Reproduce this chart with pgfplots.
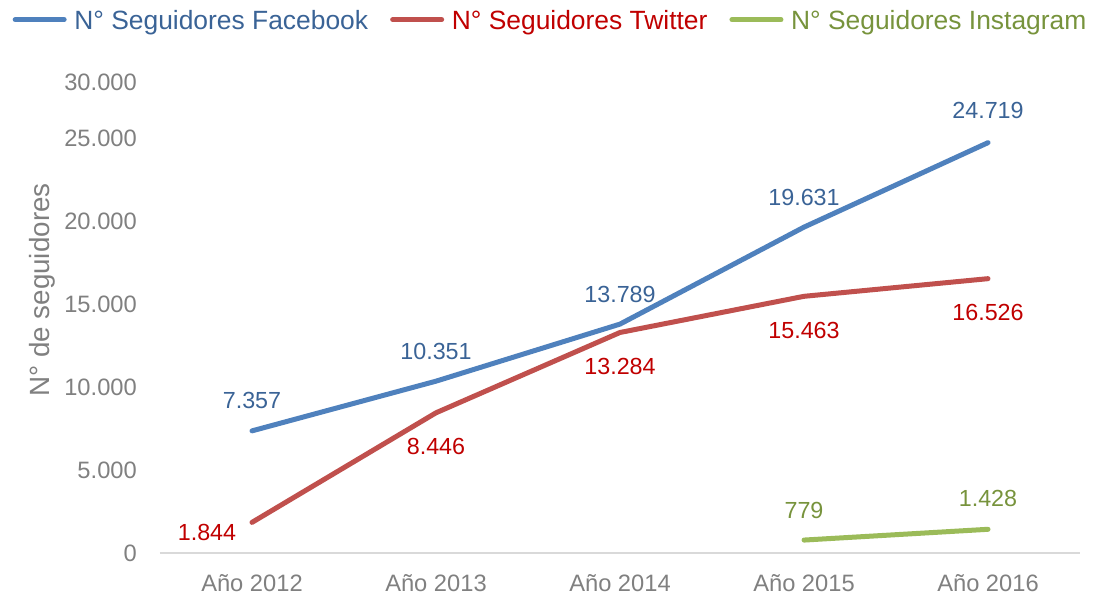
\documentclass[border=0pt]{standalone}
\usepackage{fontspec}
\setmainfont{Liberation Sans}
\usepackage{pgfplots}
\usepackage{pgfplotstable}
\pgfplotsset{compat=1.18}

\definecolor{fbline}{HTML}{4F81BD}
\definecolor{fbtext}{HTML}{3A6396}
\definecolor{twline}{HTML}{C0504D}
\definecolor{twtext}{HTML}{C00000}
\definecolor{igline}{HTML}{9BBB59}
\definecolor{igtext}{HTML}{77933C}
\definecolor{ticktext}{HTML}{808080}
\definecolor{axisline}{HTML}{D9D9D9}

\pgfplotstableread{
x y lab dx dy
0 7357 7.357 0 30
1 10351 10.351 0 30
2 13789 13.789 0 29.5
3 19631 19.631 0 30
4 24719 24.719 0 32
}\fb

\pgfplotstableread{
x y lab dx dy
0 1844 1.844 -45 -10.5
1 8446 8.446 0 -34
2 13284 13.284 0 -34
3 15463 15.463 0 -34
4 16526 16.526 0 -34
}\tw

\pgfplotstableread{
x y lab dx dy
3 779 779 0 29.5
4 1428 1.428 0 31
}\ig

\pgfplotsset{lbl/.style={
  point meta=explicit symbolic,
  nodes near coords,
  visualization depends on={\thisrow{dx} \as \dx},
  visualization depends on={\thisrow{dy} \as \dy},
  every node near coord/.append style={anchor=center, inner sep=0pt, font=\fontsize{23.3pt}{28pt}\selectfont, text=#1, xshift=\dx pt, yshift=\dy pt}
}}

\begin{document}
\begin{tikzpicture}
\useasboundingbox (-160pt,-44pt) rectangle (934pt,553pt);
\begin{axis}[
  at={(0,0)}, anchor=south west,
  scale only axis,
  width=920pt, height=498pt,
  xmin=-0.5, xmax=4.5,
  ymin=0, ymax=30000,
  clip=false,
  scaled y ticks=false,
  axis x line=bottom,
  axis y line=left,
  x axis line style={draw=axisline, line width=1.3pt, -},
  y axis line style={draw=none},
  major tick length=0pt,
  tick style={draw=none},
  xtick={0,1,2,3,4},
  xticklabels={Año 2012,Año 2013,Año 2014,Año 2015,Año 2016},
  ytick={0,5000,10000,15000,20000,25000,28373},
  yticklabels={0,5.000,10.000,15.000,20.000,25.000,30.000},
  xticklabel style={anchor=base, inner sep=0pt, yshift=-38pt, text=ticktext, font=\fontsize{23.7pt}{28pt}\selectfont},
  yticklabel style={anchor=east, inner sep=0pt, xshift=-23pt, text=ticktext, font=\fontsize{23.7pt}{28pt}\selectfont},
  ylabel={N° de seguidores},
  ylabel style={at={(axis description cs:0,0.528)}, anchor=center, inner sep=0pt, yshift=118pt, text=ticktext, font=\fontsize{27.8pt}{32pt}\selectfont},
  legend columns=3,
  legend style={draw=none, fill=none, inner sep=0pt,
    at={(axis description cs:0.4234,1)}, anchor=center, yshift=34.7pt,
    font=\fontsize{26.4pt}{31pt}\selectfont,
    nodes={inner sep=0pt},
    /tikz/every odd column/.append style={column sep=7.7pt},
    /tikz/every even column/.append style={column sep=22pt}},
  legend image code/.code={\draw[#1, line width=5pt, line cap=round] (2.5pt,0.6pt) -- (51.5pt,0.6pt);},
]
\addplot[fbline, line width=5pt, line cap=round, line join=round, lbl=fbtext]
  table[x=x, y=y, meta=lab] {\fb};
\addlegendentry{\textcolor{fbtext}{N° Seguidores Facebook}}
\addplot[twline, line width=5pt, line cap=round, line join=round, lbl=twtext]
  table[x=x, y=y, meta=lab] {\tw};
\addlegendentry{\textcolor{twtext}{N° Seguidores Twitter}}
\addplot[igline, line width=5pt, line cap=round, line join=round, lbl=igtext]
  table[x=x, y=y, meta=lab] {\ig};
\addlegendentry{\textcolor{igtext}{N° Seguidores Instagram}}
\end{axis}
\end{tikzpicture}
\end{document}
